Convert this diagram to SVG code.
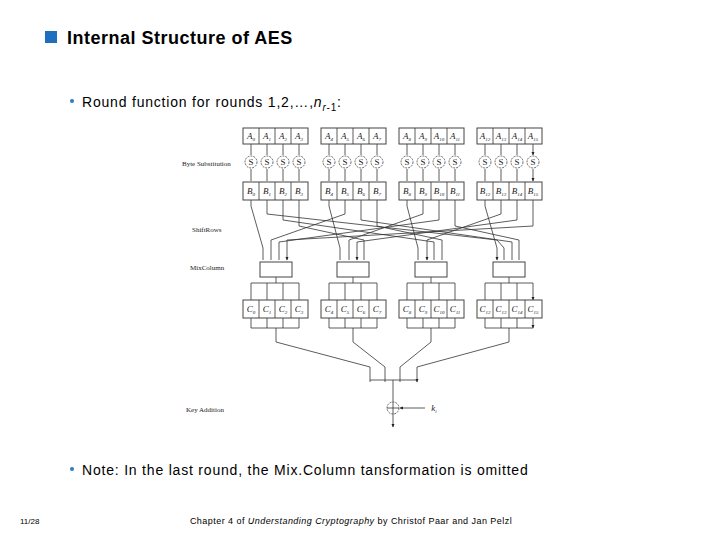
<svg xmlns="http://www.w3.org/2000/svg" width="720" height="540" viewBox="0 0 720 540">
<defs>
<marker id="ah" markerWidth="4" markerHeight="4" refX="3" refY="2" orient="auto" markerUnits="userSpaceOnUse"><path d="M0,0.5 L3.5,2 L0,3.5 z" fill="#222"/></marker>
</defs>
<style>
.t{font-family:"Liberation Sans",Arial,sans-serif;fill:#000}
.s{font-family:"Liberation Serif","Times New Roman",serif;fill:#222}
.c{fill:#fff;stroke:#444;stroke-width:1}
.l{fill:none;stroke:#333;stroke-width:0.8}
.a{fill:none;stroke:#333;stroke-width:0.8;marker-end:url(#ah)}
.cl{font-family:"Liberation Serif","Times New Roman",serif;font-style:italic;font-size:9px;fill:#222;text-anchor:middle}
</style>
<rect width="720" height="540" fill="#fff"/>
<g id="title">
<rect x="45" y="31" width="12" height="12" fill="#1f6fbf"/>
<text class="t" x="67" y="44" font-size="18" font-weight="bold" letter-spacing="0.5">Internal Structure of AES</text>
</g>
<g id="bullet1">
<circle cx="72" cy="101" r="2" fill="#2a7cc7"/>
<text class="t" x="82" y="107" font-size="14" letter-spacing="0.8">Round function for rounds 1,2,…,<tspan font-style="italic">n</tspan><tspan font-size="10" dy="4" font-style="italic">r</tspan><tspan font-size="10">-1</tspan><tspan dy="-4">:</tspan></text>
</g>
<g id="labels">
<text class="s" x="182" y="166" font-size="7">Byte Substitution</text>
<text class="s" x="192" y="232" font-size="7">ShiftRows</text>
<text class="s" x="190" y="270" font-size="7">MixColumn</text>
<text class="s" x="186" y="412" font-size="7">Key Addition</text>
</g>
<g id="connectors">
<path class="a" d="M251,144V155M267,144V155M283,144V155M299,144V155M329,144V155M345,144V155M361,144V155M377,144V155M407,144V155M423,144V155M439,144V155M455,144V155M485,144V155M501,144V155M517,144V155M533,144V155"/>
<path class="a" d="M251,169V181M267,169V181M283,169V181M299,169V181M329,169V181M345,169V181M361,169V181M377,169V181M407,169V181M423,169V181M439,169V181M455,169V181M485,169V181M501,169V181M517,169V181M533,169V181"/>
<path class="a" d="M251,200V206L263,248V260M329,200V206L340,248V260M407,200V206L418,248V260M485,200V206L497,248V260"/>
<path class="a" d="M267,200V214L497,240L504,248V260M345,200V214L271,240V260M423,200V214L349,240V260M501,200V214L427,240V260"/>
<path class="a" d="M283,200V220L434,242V260M361,200V220L512,242V260M439,200V220L279,242V260M517,200V220L357,242V260"/>
<path class="a" d="M299,200V226L364,240V260M377,200V226L442,240V260M455,200V226L519,240V260M533,200V226L287,240V260"/>
<path class="l" d="M276,277V283M353,277V283M431,277V283M509,277V283"/>
<path class="l" d="M251,283H299M329,283H377M407,283H455M485,283H533"/>
<path class="a" d="M251,283V300M267,283V300M283,283V300M299,283V300M329,283V300M345,283V300M361,283V300M377,283V300M407,283V300M423,283V300M439,283V300M455,283V300M485,283V300M501,283V300M517,283V300M533,283V300"/>
<path class="a" d="M251,318V328M267,318V328M283,318V328M299,318V328M329,318V328M345,318V328M361,318V328M377,318V328M407,318V328M423,318V328M439,318V328M455,318V328M485,318V328M501,318V328M517,318V328M533,318V328"/>
<path class="l" d="M251,328H299M329,328H377M407,328H455M485,328H533"/>
<path class="a" d="M276,328V342L370,367V382M353,328V342L385,367V382M431,328V342L400,367V382M509,328V342L417,367V382"/>
<path class="l" d="M370,380H417"/>
<path class="a" d="M393,380V427"/>
<path class="a" d="M425,408H400"/>
</g>
<g id="Arow">
<rect class="c" x="243" y="128" width="65" height="16"/><path class="l" d="M259,128V144M275,128V144M291,128V144"/>
<rect class="c" x="321" y="128" width="65" height="16"/><path class="l" d="M337,128V144M353,128V144M369,128V144"/>
<rect class="c" x="399" y="128" width="65" height="16"/><path class="l" d="M415,128V144M431,128V144M447,128V144"/>
<rect class="c" x="477" y="128" width="65" height="16"/><path class="l" d="M493,128V144M509,128V144M525,128V144"/>
<text class="cl" y="139"><tspan x="251">A<tspan font-size="5" dy="2">0</tspan></tspan><tspan x="267" dy="-2">A<tspan font-size="5" dy="2">1</tspan></tspan><tspan x="283" dy="-2">A<tspan font-size="5" dy="2">2</tspan></tspan><tspan x="299" dy="-2">A<tspan font-size="5" dy="2">3</tspan></tspan><tspan x="329" dy="-2">A<tspan font-size="5" dy="2">4</tspan></tspan><tspan x="345" dy="-2">A<tspan font-size="5" dy="2">5</tspan></tspan><tspan x="361" dy="-2">A<tspan font-size="5" dy="2">6</tspan></tspan><tspan x="377" dy="-2">A<tspan font-size="5" dy="2">7</tspan></tspan><tspan x="407" dy="-2">A<tspan font-size="5" dy="2">8</tspan></tspan><tspan x="423" dy="-2">A<tspan font-size="5" dy="2">9</tspan></tspan><tspan x="439" dy="-2">A<tspan font-size="5" dy="2">10</tspan></tspan><tspan x="455" dy="-2">A<tspan font-size="5" dy="2">11</tspan></tspan><tspan x="485" dy="-2">A<tspan font-size="5" dy="2">12</tspan></tspan><tspan x="501" dy="-2">A<tspan font-size="5" dy="2">13</tspan></tspan><tspan x="517" dy="-2">A<tspan font-size="5" dy="2">14</tspan></tspan><tspan x="533" dy="-2">A<tspan font-size="5" dy="2">15</tspan></tspan></text>
</g>
<g id="Srow" font-family="Liberation Serif,serif" font-size="9" text-anchor="middle">
<g fill="#fff" stroke="#444" stroke-dasharray="2,1" stroke-width="0.8">
<circle cx="251" cy="162" r="6"/><circle cx="267" cy="162" r="6"/><circle cx="283" cy="162" r="6"/><circle cx="299" cy="162" r="6"/>
<circle cx="329" cy="162" r="6"/><circle cx="345" cy="162" r="6"/><circle cx="361" cy="162" r="6"/><circle cx="377" cy="162" r="6"/>
<circle cx="407" cy="162" r="6"/><circle cx="423" cy="162" r="6"/><circle cx="439" cy="162" r="6"/><circle cx="455" cy="162" r="6"/>
<circle cx="485" cy="162" r="6"/><circle cx="501" cy="162" r="6"/><circle cx="517" cy="162" r="6"/><circle cx="533" cy="162" r="6"/>
</g>
<text y="165" fill="#222"><tspan x="251">S</tspan><tspan x="267">S</tspan><tspan x="283">S</tspan><tspan x="299">S</tspan><tspan x="329">S</tspan><tspan x="345">S</tspan><tspan x="361">S</tspan><tspan x="377">S</tspan><tspan x="407">S</tspan><tspan x="423">S</tspan><tspan x="439">S</tspan><tspan x="455">S</tspan><tspan x="485">S</tspan><tspan x="501">S</tspan><tspan x="517">S</tspan><tspan x="533">S</tspan></text>
</g>
<g id="Brow">
<rect class="c" x="243" y="182" width="65" height="18"/><path class="l" d="M259,182V200M275,182V200M291,182V200"/>
<rect class="c" x="321" y="182" width="65" height="18"/><path class="l" d="M337,182V200M353,182V200M369,182V200"/>
<rect class="c" x="399" y="182" width="65" height="18"/><path class="l" d="M415,182V200M431,182V200M447,182V200"/>
<rect class="c" x="477" y="182" width="65" height="18"/><path class="l" d="M493,182V200M509,182V200M525,182V200"/>
<text class="cl" y="194"><tspan x="251">B<tspan font-size="5" dy="2">0</tspan></tspan><tspan x="267" dy="-2">B<tspan font-size="5" dy="2">1</tspan></tspan><tspan x="283" dy="-2">B<tspan font-size="5" dy="2">2</tspan></tspan><tspan x="299" dy="-2">B<tspan font-size="5" dy="2">3</tspan></tspan><tspan x="329" dy="-2">B<tspan font-size="5" dy="2">4</tspan></tspan><tspan x="345" dy="-2">B<tspan font-size="5" dy="2">5</tspan></tspan><tspan x="361" dy="-2">B<tspan font-size="5" dy="2">6</tspan></tspan><tspan x="377" dy="-2">B<tspan font-size="5" dy="2">7</tspan></tspan><tspan x="407" dy="-2">B<tspan font-size="5" dy="2">8</tspan></tspan><tspan x="423" dy="-2">B<tspan font-size="5" dy="2">9</tspan></tspan><tspan x="439" dy="-2">B<tspan font-size="5" dy="2">10</tspan></tspan><tspan x="455" dy="-2">B<tspan font-size="5" dy="2">11</tspan></tspan><tspan x="485" dy="-2">B<tspan font-size="5" dy="2">12</tspan></tspan><tspan x="501" dy="-2">B<tspan font-size="5" dy="2">13</tspan></tspan><tspan x="517" dy="-2">B<tspan font-size="5" dy="2">14</tspan></tspan><tspan x="533" dy="-2">B<tspan font-size="5" dy="2">15</tspan></tspan></text>
</g>
<g id="MixColumn">
<rect class="c" x="260" y="262" width="32" height="15"/>
<rect class="c" x="337" y="262" width="32" height="15"/>
<rect class="c" x="415" y="262" width="32" height="15"/>
<rect class="c" x="493" y="262" width="32" height="15"/>
</g>
<g id="Crow">
<rect class="c" x="243" y="300" width="65" height="18"/><path class="l" d="M259,300V318M275,300V318M291,300V318"/>
<rect class="c" x="321" y="300" width="65" height="18"/><path class="l" d="M337,300V318M353,300V318M369,300V318"/>
<rect class="c" x="399" y="300" width="65" height="18"/><path class="l" d="M415,300V318M431,300V318M447,300V318"/>
<rect class="c" x="477" y="300" width="65" height="18"/><path class="l" d="M493,300V318M509,300V318M525,300V318"/>
<text class="cl" y="312"><tspan x="251">C<tspan font-size="5" dy="2">0</tspan></tspan><tspan x="267" dy="-2">C<tspan font-size="5" dy="2">1</tspan></tspan><tspan x="283" dy="-2">C<tspan font-size="5" dy="2">2</tspan></tspan><tspan x="299" dy="-2">C<tspan font-size="5" dy="2">3</tspan></tspan><tspan x="329" dy="-2">C<tspan font-size="5" dy="2">4</tspan></tspan><tspan x="345" dy="-2">C<tspan font-size="5" dy="2">5</tspan></tspan><tspan x="361" dy="-2">C<tspan font-size="5" dy="2">6</tspan></tspan><tspan x="377" dy="-2">C<tspan font-size="5" dy="2">7</tspan></tspan><tspan x="407" dy="-2">C<tspan font-size="5" dy="2">8</tspan></tspan><tspan x="423" dy="-2">C<tspan font-size="5" dy="2">9</tspan></tspan><tspan x="439" dy="-2">C<tspan font-size="5" dy="2">10</tspan></tspan><tspan x="455" dy="-2">C<tspan font-size="5" dy="2">11</tspan></tspan><tspan x="485" dy="-2">C<tspan font-size="5" dy="2">12</tspan></tspan><tspan x="501" dy="-2">C<tspan font-size="5" dy="2">13</tspan></tspan><tspan x="517" dy="-2">C<tspan font-size="5" dy="2">14</tspan></tspan><tspan x="533" dy="-2">C<tspan font-size="5" dy="2">15</tspan></tspan></text>
</g>
<g id="keyadd">
<circle cx="393" cy="408" r="6" fill="none" stroke="#444" stroke-dasharray="2,1" stroke-width="0.8"/>
<path class="l" d="M387,408H399"/>
<text class="cl" x="434" y="411">k<tspan font-size="5" dy="2">i</tspan></text>
</g>
<g id="bullet2">
<circle cx="72" cy="469" r="2" fill="#2a7cc7"/>
<text class="t" x="82" y="475" font-size="14" letter-spacing="0.8">Note: In the last round, the Mix.Column tansformation is omitted</text>
</g>
<g id="footer">
<text class="t" x="20" y="524" font-size="8">11/28</text>
<text class="t" x="351" y="524" font-size="9" letter-spacing="0.45" text-anchor="middle">Chapter 4 of <tspan font-style="italic">Understanding Cryptography</tspan> by Christof Paar and Jan Pelzl</text>
</g>
</svg>
